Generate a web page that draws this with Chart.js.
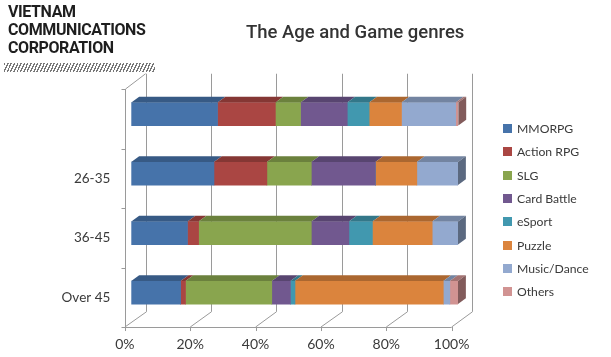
<!DOCTYPE html>
<html>
<head>
<meta charset="utf-8">
<script src="https://cdn.jsdelivr.net/npm/chart.js@4.4.1/dist/chart.umd.min.js"></script>
<style>
  html, body { margin: 0; padding: 0; background: #fff; }
  #wrap { position: relative; width: 611px; height: 357px; overflow: hidden; }
  #c { position: absolute; left: 0; top: 0; }
  .logo { position: absolute; left: 8px; font-family: Roboto, sans-serif; font-weight: 700; font-size: 16px; color: #1e1e1e; letter-spacing: -0.4px; line-height: 18px; white-space: nowrap; }
  .hatch { position: absolute; left: 4px; top: 63px; width: 151px; height: 9px;
    background: repeating-linear-gradient(115deg, #777 0 1.3px, #fff 1.3px 3px); }
  .title { position: absolute; top: 21px; left: 246px; font-family: Roboto, sans-serif; font-weight: 500; font-size: 18.5px; color: #333; white-space: nowrap; }
  .leg { position: absolute; left: 503px; font-family: Lato, sans-serif; font-size: 12.2px; color: #3a3a3a; white-space: nowrap; }
  .leg i { display: inline-block; width: 9px; height: 9px; margin-right: 5px; vertical-align: 0px; }
</style>
</head>
<body>
<div id="wrap">
  <canvas id="c" width="611" height="357"></canvas>
  <div class="logo" style="top:3px">VIETNAM</div>
  <div class="logo" style="top:21px">COMMUNICATIONS</div>
  <div class="logo" style="top:39px">CORPORATION</div>
  <div class="hatch"></div>
  <div class="title">The Age and Game genres</div>
  <div id="legend"></div>
</div>
<script>
// ---- data ----
const categories = ["", "26-35", "36-45", "Over 45"];
const seriesNames = ["MMORPG", "Action RPG", "SLG", "Card Battle", "eSport", "Puzzle", "Music/Dance", "Others"];
const mmorpg     = [26.4, 25.3, 17.2, 15.1];
const actionRpg  = [17.7, 16.2,  3.4,  1.5];
const slg        = [ 7.7, 13.6, 34.5, 26.4];
const cardBattle = [14.3, 19.6, 11.5,  5.7];
const eSport     = [ 6.7,  0.0,  7.2,  1.4];
const puzzle     = [ 9.9, 12.7, 18.3, 45.4];
const musicDance = [16.6, 12.6,  7.9,  2.0];
const others     = [ 0.8,  0.0,  0.0,  2.5];
const xTicks = [0, 20, 40, 60, 80, 100];

const seriesValues = [mmorpg, actionRpg, slg, cardBattle, eSport, puzzle, musicDance, others];
const colors = ["#4673AA", "#AA4643", "#89A54E", "#71588F", "#4198AF", "#DB843D", "#93A9CF", "#D19392"];

// ---- 3D geometry (depth vector and bar depth position) ----
const DX = 20.7, DY = -15.3, D0 = 0.31, D1 = 0.69;

function shade(hex, f) {
  const n = parseInt(hex.slice(1), 16);
  const r = Math.round(((n >> 16) & 255) * f), g = Math.round(((n >> 8) & 255) * f), b = Math.round((n & 255) * f);
  return `rgb(${r},${g},${b})`;
}

const wallsPlugin = {
  id: 'walls',
  beforeDatasetsDraw(chart) {
    const ctx = chart.ctx, x = chart.scales.x, a = chart.chartArea;
    const xf = v => x.getPixelForValue(v) - D0 * DX;
    const xb = v => x.getPixelForValue(v) + (1 - D0) * DX;
    const yFrontBottom = a.bottom - D0 * DY, yFrontTop = a.top - D0 * DY;
    const yBackBottom = a.bottom + (1 - D0) * DY, yBackTop = a.top + (1 - D0) * DY;
    ctx.save();
    ctx.strokeStyle = '#9a9a9a';
    ctx.lineWidth = 1;
    const line = (x1, y1, x2, y2) => { ctx.beginPath(); ctx.moveTo(x1, y1); ctx.lineTo(x2, y2); ctx.stroke(); };
    xTicks.forEach(v => {
      const bx = Math.round(xb(v)) + 0.5;
      line(bx, yBackTop, bx, yBackBottom);
      line(xf(v), yFrontBottom, bx, yBackBottom);
      const fx = Math.round(xf(v)) + 0.5;
      line(fx, yFrontBottom, fx, yFrontBottom + 4);
    });
    const fy = Math.round(yFrontBottom) + 0.5;
    line(xf(0), fy, xf(100), fy);
    const lx = Math.round(xf(0)) + 0.5;
    line(lx, yFrontTop, lx, yFrontBottom);
    line(lx, yFrontTop, xb(0), yBackTop);
    const n = categories.length, band = (a.bottom - a.top) / n;
    for (let i = 0; i <= n; i++) {
      const ty = Math.round(a.top + i * band - D0 * DY) + 0.5;
      line(lx - 4, ty, lx, ty);
    }
    ctx.restore();
  },
  afterDatasetsDraw(chart) {
    const ctx = chart.ctx;
    const ox = (D1 - D0) * DX, oy = (D1 - D0) * DY;
    const lastIdx = [];
    chart.data.datasets.forEach((ds, di) => {
      const meta = chart.getDatasetMeta(di);
      meta.data.forEach((bar, i) => {
        const v = ds.data[i];
        if (!v) return;
        const left = Math.min(bar.x, bar.base), right = Math.max(bar.x, bar.base);
        const top = bar.y - bar.height / 2, bottom = bar.y + bar.height / 2;
        ctx.fillStyle = shade(colors[di], 0.78);
        ctx.beginPath();
        ctx.moveTo(left, top); ctx.lineTo(right, top);
        ctx.lineTo(right + ox, top + oy); ctx.lineTo(left + ox, top + oy);
        ctx.closePath(); ctx.fill();
        lastIdx[i] = { di, right, top, bottom };
      });
    });
    lastIdx.forEach(s => {
      if (!s) return;
      ctx.fillStyle = shade(colors[s.di], 0.62);
      ctx.beginPath();
      ctx.moveTo(s.right, s.top); ctx.lineTo(s.right + ox, s.top + oy);
      ctx.lineTo(s.right + ox, s.bottom + oy); ctx.lineTo(s.right, s.bottom);
      ctx.closePath(); ctx.fill();
    });
  }
};

new Chart(document.getElementById('c'), {
  type: 'bar',
  data: {
    labels: categories,
    datasets: seriesNames.map((name, i) => ({
      label: name,
      data: seriesValues[i],
      backgroundColor: colors[i],
      borderWidth: 0,
      barThickness: 23
    }))
  },
  options: {
    indexAxis: 'y',
    responsive: false,
    animation: false,
    events: [],
    layout: { padding: { left: 0, right: 153, top: 84.3, bottom: 0 } },
    plugins: { legend: { display: false }, title: { display: false }, tooltip: { enabled: false } },
    scales: {
      x: {
        stacked: true, min: 0, max: 100,
        afterBuildTicks: s => { s.ticks = xTicks.map(v => ({ value: v })); },
        afterFit: s => { s.height = 34.7; },
        grid: { display: false, drawTicks: false },
        border: { display: false },
        ticks: { padding: 14, labelOffset: -D0 * DX, color: '#3a3a3a', font: { family: 'Lato', size: 14 }, callback: v => v + '%' }
      },
      y: {
        stacked: true,
        afterFit: s => { s.width = 131.3; },
        grid: { display: false, drawTicks: false },
        border: { display: false },
        ticks: { padding: 21, labelOffset: -D0 * DY, color: '#3a3a3a', font: { family: 'Lato', size: 13.5 } }
      }
    }
  },
  plugins: [wallsPlugin]
});

// ---- legend ----
const legendTops = [130, 153.3, 176.6, 200, 223.3, 246.6, 270, 293.3];
const lg = document.getElementById('legend');
seriesNames.forEach((name, i) => {
  const d = document.createElement('div');
  d.className = 'leg';
  d.style.top = (legendTops[i] - 9) + 'px';
  d.innerHTML = `<i style="background:${colors[i]}"></i>${name}`;
  lg.appendChild(d);
});
</script>
</body>
</html>
